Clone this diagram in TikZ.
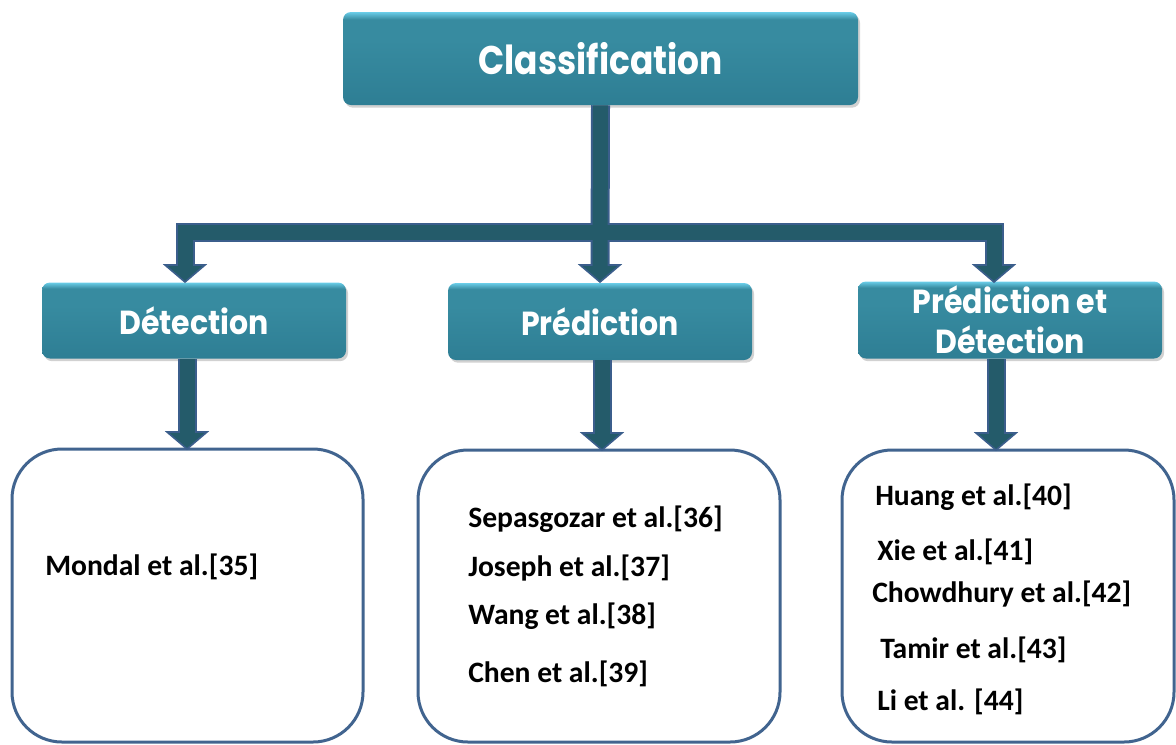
\documentclass[tikz,border=0pt]{standalone}
\usepackage{fontspec}
\usepackage{graphicx}
\setmainfont{Carlito}
\newfontfamily\headfont{Poppins}
\usetikzlibrary{shadows}
\definecolor{tealmain}{HTML}{378BA0}
\definecolor{tealbot}{HTML}{2E7E94}
\definecolor{teallight}{HTML}{6ACDE8}
\definecolor{confill}{HTML}{245B6A}
\definecolor{conout}{HTML}{3B5E8C}
\definecolor{boxline}{HTML}{41648F}
\pgfdeclareverticalshading{tealshade}{100bp}{color(0bp)=(tealbot); color(25bp)=(tealbot); color(60bp)=(tealmain); color(71bp)=(tealmain); color(75bp)=(teallight); color(100bp)=(teallight)}
\newcommand{\hs}[1]{\scalebox{0.9}[1]{#1}}
\newcommand{\hsc}[1]{\scalebox{0.86}[1]{#1}}
\tikzset{
  headbox/.style={rectangle, rounded corners=6pt, shading=tealshade, text=white,
    align=center, inner sep=0pt,
    drop shadow={shadow xshift=1.5pt, shadow yshift=-2pt, opacity=0.3, fill=black!60}},
  listbox/.style={rectangle, rounded corners=37.5pt, draw=boxline, line width=2.25pt, fill=white},
  ref/.style={anchor=base west, font=\fontsize{22.2}{26}\selectfont\bfseries, inner sep=0pt},
  conout/.style={draw=conout, line width=14.25pt, line join=miter, line cap=butt},
  conin/.style={draw=confill, line width=11.25pt, line join=miter, line cap=butt},
  conhead/.style={fill=confill, draw=conout, line width=1.2pt, line join=miter},
}
\begin{document}
\begin{tikzpicture}[x=0.75pt,y=-0.75pt]
\useasboundingbox (0,0) rectangle (1176,744);
% level 1
\node[headbox, minimum width=515*0.75pt, minimum height=93*0.75pt,
  font=\fontsize{30}{36}\selectfont\headfont\bfseries] (cls) at (600.5,58.5) {\hsc{Classification}};
% level 2
\node[headbox, minimum width=304*0.75pt, minimum height=76*0.75pt,
  font=\fontsize{25}{30}\selectfont\headfont\bfseries] (det) at (194,320.5) {\hs{Détection}};
\node[headbox, minimum width=304*0.75pt, minimum height=77*0.75pt,
  font=\fontsize{25}{30}\selectfont\headfont\bfseries] (pre) at (600,321.5) {\hs{Prédiction}};
\node[headbox, minimum width=304*0.75pt, minimum height=77*0.75pt,
  font=\fontsize{25}{30}\selectfont\headfont\bfseries] (pd) at (1010,320) {\hs{Prédiction et}\\\hs{Détection}};
% level 3
\node[listbox, minimum width=351*0.75pt, minimum height=293*0.75pt] (b1) at (187.5,595.5) {};
\node[listbox, minimum width=362*0.75pt, minimum height=292*0.75pt] (b2) at (599,596) {};
\node[listbox, minimum width=332*0.75pt, minimum height=292*0.75pt] (b3) at (1008,596) {};
% references
\node[ref] (r35) at (45,575) {Mondal et al.[35]};
\node[ref] (r36) at (468,527) {Sepasgozar et al.[36]};
\node[ref] (r37) at (468,576) {Joseph et al.[37]};
\node[ref] (r38) at (468,624) {Wang et al.[38]};
\node[ref] (r39) at (468,682) {Chen et al.[39]};
\node[ref] (r40) at (875,505) {Huang et al.[40]};
\node[ref] (r41) at (877,560) {Xie et al.[41]};
\node[ref] (r42) at (872,602) {Chowdhury et al.[42]};
\node[ref] (r43) at (880,658) {Tamir et al.[43]};
\node[ref] (r44) at (877,710) {Li et al. [44]};
% connector coordinates
\coordinate (hy) at (600,232);
\coordinate (tL) at (185,282);
\coordinate (tM) at (600,282);
\coordinate (tR) at (994,282);
\coordinate (u1) at (187,449);
\coordinate (u2) at (602,450);
\coordinate (u3) at (996,450);
% outline pass
\draw[conout] (cls.south) -- ([yshift=17*0.75pt]tM);
\draw[conout] ([yshift=17*0.75pt]tL) |- (hy) -| ([yshift=17*0.75pt]tR);
\draw[conout] (det.south -| u1) -- ([yshift=17*0.75pt]u1);
\draw[conout] (pre.south -| u2) -- ([yshift=17*0.75pt]u2);
\draw[conout] (pd.south -| u3) -- ([yshift=17*0.75pt]u3);
% heads
\foreach \t in {tL,tM,tR,u1,u2,u3}{
  \draw[conhead] ([shift={(-20,-17)}]\t) -- ([shift={(20,-17)}]\t) -- (\t) -- cycle;
}
% fill pass
\draw[conin] (cls.south) -- ([yshift=15*0.75pt]tM);
\draw[conin] ([yshift=15*0.75pt]tL) |- (hy) -| ([yshift=15*0.75pt]tR);
\draw[conin] (det.south -| u1) -- ([yshift=15*0.75pt]u1);
\draw[conin] (pre.south -| u2) -- ([yshift=15*0.75pt]u2);
\draw[conin] (pd.south -| u3) -- ([yshift=15*0.75pt]u3);
\end{tikzpicture}
\end{document}
